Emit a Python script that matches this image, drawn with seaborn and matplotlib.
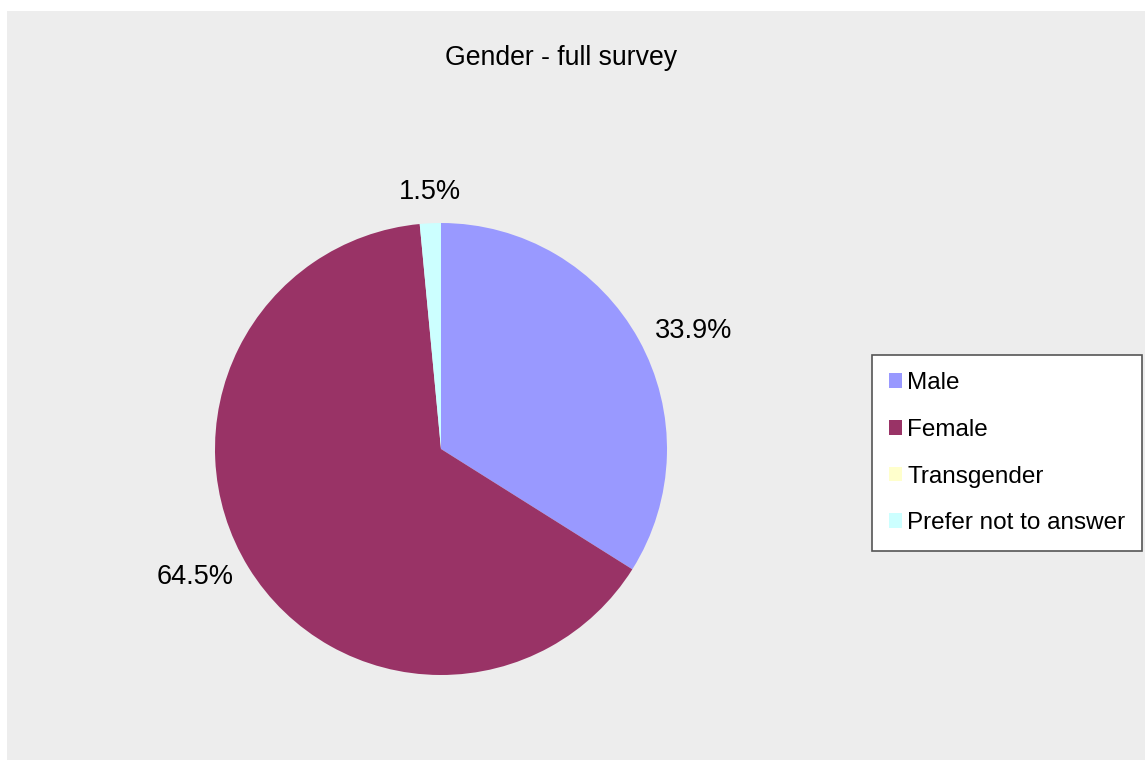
import numpy as np
import matplotlib
matplotlib.use("Agg")
import matplotlib.pyplot as plt
import seaborn as sns
from matplotlib.patches import Rectangle

# Data
categories = ["Male", "Female", "Transgender", "Prefer not to answer"]
shares = [33.9, 64.5, 0.0, 1.5]
colors = ["#9999FF", "#993366", "#FFFFCC", "#CCFFFF"]
title = "Gender - full survey"

sns.set_style("white")
plt.rcParams["font.family"] = ["Liberation Sans", "DejaVu Sans"]
plt.rcParams["text.color"] = "black"

fig = plt.figure(figsize=(11.45, 7.6), dpi=100, facecolor="white")
W, H = 1145, 760

# grey chart area
fig.patches.append(Rectangle((7 / W, 0), 1 - 7 / W, 1 - 11 / H, transform=fig.transFigure,
                             facecolor="#EDEDED", edgecolor="none", zorder=-1))

# pie axes: centre (441, 449), radius 226 px
cx, cy, r = 441, 449, 226
ax = fig.add_axes([(cx - r) / W, (H - cy - r) / H, 2 * r / W, 2 * r / H])
ax.set_facecolor("none")

pct_labels = [f"{v:.1f}%" if v > 0 else "" for v in shares]
wedges, texts = ax.pie(shares, labels=pct_labels, colors=sns.color_palette(colors),
                       startangle=90, counterclock=False, labeldistance=1.08,
                       wedgeprops=dict(linewidth=0),
                       textprops=dict(fontsize=19.5, color="black"))
for w, t in zip(wedges, texts):
    mid = np.deg2rad((w.theta1 + w.theta2) / 2)
    if abs(np.cos(mid)) < 0.2:
        t.set_ha("center")
        t.set_va("bottom")
ax.set_xlim(-1, 1)
ax.set_ylim(-1, 1)
ax.set_aspect("equal")
ax.axis("off")

fig.text(561 / W, 1 - 58 / H, title, ha="center", va="center", fontsize=19.2, color="black")

leg = fig.legend(wedges, categories, loc="upper left",
                 bbox_to_anchor=(872 / W, 1 - 355 / H), fontsize=17.5,
                 handlelength=0.55, handleheight=0.55, handletextpad=0.2,
                 labelspacing=1.02, borderpad=0.7, borderaxespad=0,
                 fancybox=False, framealpha=1, edgecolor="#555555")
leg.get_frame().set_linewidth(1.2)
for t in leg.get_texts():
    t.set_color("black")

fig.savefig("out.png", dpi=100)
